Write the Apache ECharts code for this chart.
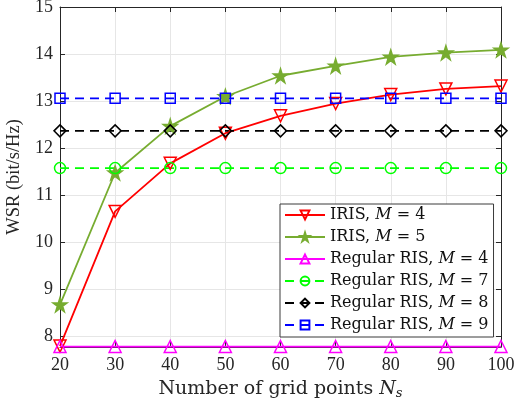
<!DOCTYPE html>
<html>
<head>
<meta charset="utf-8">
<script src="https://cdn.jsdelivr.net/npm/echarts@6/dist/echarts.min.js"></script>
<style>
  html, body { margin: 0; padding: 0; background: #fff; }
  #chart { width: 514px; height: 407px; }
</style>
</head>
<body>
<div id="chart"></div>
<script>
  // data
  const gridPoints = [20, 30, 40, 50, 60, 70, 80, 90, 100];
  const irisM4 = [7.8, 10.66, 11.68, 12.32, 12.69, 12.95, 13.14, 13.26, 13.32];
  const irisM5 = [8.68, 11.48, 12.47, 13.1, 13.54, 13.75, 13.94, 14.03, 14.09];
  const regM4 = [7.79, 7.79, 7.79, 7.79, 7.79, 7.79, 7.79, 7.79, 7.79];
  const regM7 = [11.58, 11.58, 11.58, 11.58, 11.58, 11.58, 11.58, 11.58, 11.58];
  const regM8 = [12.37, 12.37, 12.37, 12.37, 12.37, 12.37, 12.37, 12.37, 12.37];
  const regM9 = [13.06, 13.06, 13.06, 13.06, 13.06, 13.06, 13.06, 13.06, 13.06];
  const yTicks = [8, 9, 10, 11, 12, 13, 14, 15];

  const star = 'path://M0,-100L22.45,-30.9L95.1,-30.9L36.3,11.8L58.8,80.9L0,38.2L-58.8,80.9L-36.3,11.8L-95.1,-30.9L-22.45,-30.9Z';
  const font = 'Liberation Serif';
  const tex = 'DejaVu Serif';
  const txt = '#262626';

  function pairs(ys) { return gridPoints.map((x, i) => [x, ys[i]]); }

  function mk(name, data, color, symbol, size, dashed, fill, rotate) {
    return {
      name: name,
      type: 'line',
      data: pairs(data),
      symbol: symbol,
      symbolSize: size,
      symbolRotate: rotate || 0,
      showAllSymbol: true,
      color: color,
      lineStyle: { color: color, width: 1.8, type: dashed ? [9, 6] : 'solid' },
      itemStyle: { color: fill ? color : 'rgba(255,255,255,0)', borderColor: color, borderWidth: 1.5 },
      emphasis: { disabled: true },
      animation: false
    };
  }

  const labels = {
    'IRIS, M = 4': '{a|IRIS, }{i|M}{a| = 4}',
    'IRIS, M = 5': '{a|IRIS, }{i|M}{a| = 5}',
    'Regular RIS, M = 4': '{a|Regular RIS, }{i|M}{a| = 4}',
    'Regular RIS, M = 7': '{a|Regular RIS, }{i|M}{a| = 7}',
    'Regular RIS, M = 8': '{a|Regular RIS, }{i|M}{a| = 8}',
    'Regular RIS, M = 9': '{a|Regular RIS, }{i|M}{a| = 9}'
  };

  const chart = echarts.init(document.getElementById('chart'));
  chart.setOption({
    backgroundColor: '#fff',
    animation: false,
    grid: { left: 60, right: 13, top: 7, bottom: 60, show: false, outerBoundsMode: 'none', containLabel: false },
    legend: {
      orient: 'vertical',
      left: 280, top: 204,
      backgroundColor: '#fff',
      borderColor: '#3a3a3a',
      borderWidth: 1,
      borderRadius: 0,
      padding: [3, 5, 4, 4],
      itemGap: 6,
      itemWidth: 40,
      itemHeight: 11,
      formatter: n => labels[n],
      textStyle: {
        color: '#111',
        rich: {
          a: { fontFamily: tex, fontSize: 16, color: '#111', lineHeight: 19 },
          i: { fontFamily: tex, fontSize: 16, fontStyle: 'italic', color: '#111', lineHeight: 19 }
        }
      }
    },
    xAxis: [{
      type: 'value', min: 20, max: 100, interval: 10,
      name: '{a|Number of grid points }{i|N}{s|s}',
      nameLocation: 'middle', nameGap: 31,
      nameTextStyle: {
        rich: {
          a: { fontFamily: tex, fontSize: 19, color: txt },
          i: { fontFamily: tex, fontSize: 19, fontStyle: 'italic', color: txt },
          s: { fontFamily: tex, fontSize: 13, fontStyle: 'italic', color: txt, verticalAlign: 'bottom', padding: [9, 0, 0, 0] }
        }
      },
      axisLine: { lineStyle: { color: txt, width: 1 } },
      axisTick: { inside: true, length: 5, lineStyle: { color: txt } },
      axisLabel: { fontFamily: font, fontSize: 18, color: txt, margin: 9 },
      splitLine: { show: true, lineStyle: { color: '#e6e6e6', width: 1 } }
    }, {
      type: 'value', min: 20, max: 100, interval: 10, position: 'top',
      axisLine: { show: true, lineStyle: { color: txt, width: 1 } },
      axisTick: { show: true, inside: true, length: 5, lineStyle: { color: txt } },
      axisLabel: { show: false }, splitLine: { show: false }
    }],
    yAxis: [{
      type: 'value', min: 7.78, max: 15,
      name: 'WSR (bit/s/Hz)',
      nameLocation: 'middle', nameGap: 33,
      nameTextStyle: { fontFamily: font, fontSize: 18.5, color: txt },
      axisLine: { show: true, lineStyle: { color: txt, width: 1 } },
      axisTick: { show: true, inside: true, length: 5, lineStyle: { color: txt }, customValues: yTicks },
      axisLabel: { fontFamily: font, fontSize: 18, color: txt, margin: 7, customValues: yTicks },
      splitLine: { show: true, lineStyle: { color: '#e6e6e6', width: 1 } }
    }, {
      type: 'value', min: 7.78, max: 15, position: 'right',
      axisLine: { show: true, lineStyle: { color: txt, width: 1 } },
      axisTick: { show: true, inside: true, length: 5, lineStyle: { color: txt }, customValues: yTicks },
      axisLabel: { show: false }, splitLine: { show: false }
    }],
    series: [
      mk('IRIS, M = 4', irisM4, '#ff0000', 'triangle', 12, false, false, 180),
      mk('IRIS, M = 5', irisM5, '#77ac30', star, 14, false, true),
      mk('Regular RIS, M = 4', regM4, '#ff00ff', 'triangle', 12, false, false),
      mk('Regular RIS, M = 7', regM7, '#00ff00', 'circle', 11, true, false),
      mk('Regular RIS, M = 8', regM8, '#000000', 'diamond', 12, true, false),
      mk('Regular RIS, M = 9', regM9, '#0000ff', 'rect', 10, true, false)
    ]
  });
</script>
</body>
</html>
